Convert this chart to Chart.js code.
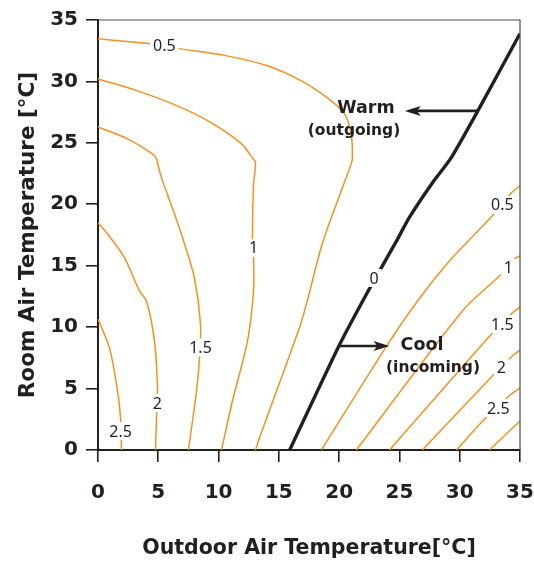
<!DOCTYPE html>
<html>
<head>
<meta charset="utf-8">
<script src="https://cdn.jsdelivr.net/npm/chart.js@4/dist/chart.umd.min.js"></script>
<style>
  body { margin: 0; background: #fff; }
  #wrap { width: 534px; height: 565px; }
</style>
</head>
<body>
<div id="wrap"><canvas id="c" width="534" height="565"></canvas></div>
<script>
// contour lines, [outdoor temp, room temp] pairs
const heat05 = [[0,33.47],[4.0,33.1],[6.9,32.65],[10.7,32.08],[14.05,31.27],[16.87,30.05],[19.03,28.66],[20.44,27.36],[21.0,25.73],[21.1,23.78],[21.0,23.29],[20.27,21.34],[18.6,16.78],[17.29,11.89],[16.7,9.93],[13.39,0.98],[13.06,0]];
const heat10 = [[0,30.21],[3.28,29.23],[6.59,28.01],[9.41,26.63],[11.9,24.92],[12.81,23.78],[13.06,23.37],[12.9,21.66],[12.81,17.26],[12.9,15.64],[12.9,12.95],[12.4,8.88],[11.15,3.99],[10.24,0]];
const heat15 = [[0,26.3],[2.45,25.33],[4.52,24.1],[4.85,23.7],[4.93,23.37],[5.27,22.15],[6.34,19.22],[7.17,16.78],[8.0,14.0],[8.5,10.26],[8.42,7.49],[8.17,4.8],[7.5,0]];
const heat20 = [[0,18.49],[0.79,17.59],[2.2,15.64],[3.44,12.95],[4.02,12.13],[4.68,8.88],[4.93,5.05],[4.85,2.61],[4.77,0]];
const heat25 = [[0,10.67],[0.95,8.31],[1.62,4.8],[1.87,2.61],[1.95,0]];

const cool05 = [[18.53,0],[24.0,8.55],[26.5,12.13],[29.15,15.39],[32.71,19.06],[34.29,20.93],[35,21.5]];
const cool10 = [[21.43,0],[30.22,11.32],[33.29,14.17],[34.54,15.55],[35,15.8]];
const cool15 = [[24.17,0],[32.71,9.53],[34.37,11.16],[35,11.64]];
const cool20 = [[26.9,0],[32.71,6.03],[34.37,7.65],[35,8.14]];
const cool25 = [[29.73,0],[32.3,2.77],[34.29,4.56],[35,5.05]];
const cool30 = [[32.46,0],[35,2.36]];

const zeroLine = [[15.9,0],[20.0,8.5],[22.5,13.1],[24.75,17.0],[25.8,18.9],[27.7,21.7],[29.3,23.8],[31.5,27.6],[35,33.9]];

// contour labels: [x, y, text]
const contourLabels = [
  [5.5,32.9,'0.5'],[12.9,16.45,'1'],[8.5,8.35,'1.5'],[4.93,3.83,'2'],[1.87,1.55,'2.5'],
  [33.54,19.95,'0.5'],[34.04,14.82,'1'],[33.54,10.26,'1.5'],[33.46,6.68,'2'],[33.2,3.42,'2.5'],
  [22.9,14.0,'0']
];

// arrows: [fromX, fromY, toX, toY]
const warmArrow = [31.5,27.6,25.45,27.6];
const coolArrow = [20.0,8.47,24.17,8.47];

const ticksX = [0,5,10,15,20,25,30,35];
const ticksY = [0,5,10,15,20,25,30,35];

const ORANGE = '#f7901e';
const DARK = '#231f20';

const toPts = arr => arr.map(p => ({ x: p[0], y: p[1] }));
const orangeSets = [heat05, heat10, heat15, heat20, heat25, cool05, cool10, cool15, cool20, cool25, cool30];

const datasets = orangeSets.map(s => ({
  data: toPts(s),
  borderColor: ORANGE,
  borderWidth: 1.5,
  showLine: true,
  pointRadius: 0,
  tension: 0.3,
  fill: false
}));
datasets.push({
  data: toPts(zeroLine),
  borderColor: DARK,
  borderWidth: 3.4,
  showLine: true,
  pointRadius: 0,
  tension: 0.2,
  fill: false
});

function arrow(ctx, x1, y1, x2, y2) {
  ctx.save();
  ctx.strokeStyle = DARK;
  ctx.fillStyle = DARK;
  ctx.lineWidth = 2.6;
  const dir = Math.sign(x2 - x1);
  ctx.beginPath();
  ctx.moveTo(x1, y1);
  ctx.lineTo(x2 - dir * 10, y2);
  ctx.stroke();
  ctx.beginPath();
  ctx.moveTo(x2, y2);
  ctx.lineTo(x2 - dir * 16, y2 - 5);
  ctx.lineTo(x2 - dir * 12, y2);
  ctx.lineTo(x2 - dir * 16, y2 + 5);
  ctx.closePath();
  ctx.fill();
  ctx.restore();
}

const overlay = {
  id: 'overlay',
  afterDatasetsDraw(chart) {
    const { ctx, scales: { x, y }, chartArea: a } = chart;
    ctx.save();
    // frame top / right
    ctx.strokeStyle = '#4d4d4f';
    ctx.lineWidth = 1.2;
    ctx.beginPath();
    ctx.moveTo(a.left, a.top);
    ctx.lineTo(a.right, a.top);
    ctx.lineTo(a.right, a.bottom);
    ctx.stroke();

    // contour labels
    ctx.font = '16px "Noto Sans"';
    ctx.textAlign = 'center';
    ctx.textBaseline = 'middle';
    contourLabels.forEach(([lx, ly, t]) => {
      const px = x.getPixelForValue(lx), py = y.getPixelForValue(ly);
      const w = ctx.measureText(t).width;
      ctx.fillStyle = '#fff';
      ctx.fillRect(px - w / 2 - 3, py - 9, w + 6, 18);
      ctx.fillStyle = DARK;
      ctx.fillText(t, px, py + 1);
    });

    // arrows and notes
    arrow(ctx, x.getPixelForValue(warmArrow[0]), y.getPixelForValue(warmArrow[1]),
               x.getPixelForValue(warmArrow[2]), y.getPixelForValue(warmArrow[3]));
    arrow(ctx, x.getPixelForValue(coolArrow[0]), y.getPixelForValue(coolArrow[1]),
               x.getPixelForValue(coolArrow[2]), y.getPixelForValue(coolArrow[3]));

    ctx.fillStyle = DARK;
    ctx.font = 'bold 17.5px "DejaVu Sans"';
    ctx.fillText('Warm', 366, 108);
    ctx.fillText('Cool', 422, 345);
    ctx.font = 'bold 15.5px "DejaVu Sans"';
    ctx.fillText('(outgoing)', 354, 131);
    ctx.fillText('(incoming)', 433, 368);
    ctx.restore();
  }
};

new Chart(document.getElementById('c'), {
  type: 'scatter',
  data: { datasets },
  plugins: [overlay],
  options: {
    responsive: false,
    animation: false,
    devicePixelRatio: 1,
    layout: { padding: { top: 19, right: 0, left: 0, bottom: 0 } },
    plugins: { legend: { display: false }, tooltip: { enabled: false } },
    scales: {
      x: {
        type: 'linear', min: 0, max: 35,
        afterBuildTicks: s => { s.ticks = ticksX.map(v => ({ value: v })); },
        afterFit: s => { s.height = 115; s.paddingRight = 14; s.paddingLeft = 0; },
        grid: { drawOnChartArea: false, drawTicks: true, tickLength: 12, color: DARK, lineWidth: 1.6 },
        border: { display: true, color: DARK, width: 2 },
        ticks: { color: DARK, padding: 19, font: { family: 'DejaVu Sans', weight: 'bold', size: 20 } },
        title: {
          display: true, text: 'Outdoor Air Temperature[°C]', color: DARK,
          font: { family: 'DejaVu Sans', weight: 'bold', size: 20.5, lineHeight: 1.2 },
          padding: { top: 0, bottom: 4 }
        }
      },
      y: {
        type: 'linear', min: 0, max: 35,
        afterBuildTicks: s => { s.ticks = ticksY.map(v => ({ value: v })); },
        afterFit: s => { s.width = 98; },
        grid: { drawOnChartArea: false, drawTicks: true, tickLength: 12, color: DARK, lineWidth: 1.6 },
        border: { display: true, color: DARK, width: 2 },
        ticks: { color: DARK, padding: 8, font: { family: 'DejaVu Sans', weight: 'bold', size: 20 } },
        title: {
          display: true, text: 'Room Air Temperature [°C]', color: DARK,
          font: { family: 'DejaVu Sans', weight: 'bold', size: 21.5, lineHeight: 1.2 },
          padding: { top: 16, bottom: 0 }
        }
      }
    }
  }
});
</script>
</body>
</html>
